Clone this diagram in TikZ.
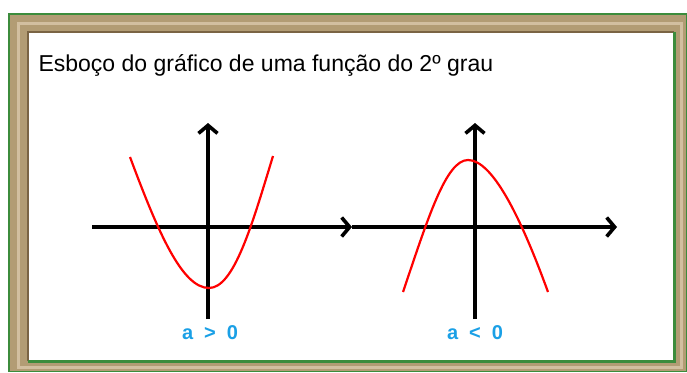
\documentclass[tikz,border=0pt]{standalone}
\usepackage{fontspec}
\setmainfont{Liberation Sans}
\usepackage{tikz}
\usetikzlibrary{arrows.meta,calc}

\definecolor{framebrown}{HTML}{B29C74}
\definecolor{framelight}{HTML}{D2BFA0}
\definecolor{framedark}{HTML}{7A6444}
\definecolor{framegreen}{HTML}{3C8C3C}
\definecolor{labelblue}{HTML}{1AA0E6}

\tikzset{
  axis/.style={line width=3.6pt, -{Straight Barb[length=8pt,width=19pt]}},
  curve/.style={red, line width=2.2pt},
  signlabel/.style={text=labelblue, font=\fontsize{20}{22}\selectfont\bfseries}
}

\begin{document}
\begin{tikzpicture}[x=1pt,y=-1pt]
\useasboundingbox (0,0) rectangle (687,372);
% frame
\fill[framebrown] (8,13) rectangle (687,372);
\draw[framelight, line width=3pt] (18,23) rectangle (681,367);
\draw[framegreen, line width=1.5pt] (8.75,13.75) rectangle (686.25,371.25);
\fill[white] (28,32) rectangle (674,361);
\draw[framedark, line width=2pt] (28,361) -- (28,32) -- (674,32);
\draw[framegreen, line width=3pt] (674,32) -- (674,361) -- (28,361);

\node[anchor=base west, font=\fontsize{23}{26}\selectfont] (title) at (35,71)
  {Esboço do gráfico de uma função do 2º grau};

% a > 0
\draw[axis] (92,227) -- (352,227);
\draw[axis] (208,319) -- (208,123);
\draw[curve] (130,157) .. controls (158,232) and (182,288) .. (209,288)
  .. controls (234,288) and (252,225) .. (273,156);
\node[signlabel] (apos) at (210,333) {a\hspace{11pt}>\hspace{11pt}0};

% a < 0
\draw[axis] (352,227) -- (617,227);
\draw[axis] (475,319) -- (475,123);
\draw[curve] (403,292) .. controls (428,218) and (446,160) .. (468,160)
  .. controls (492,160) and (520,215) .. (548,292);
\node[signlabel] (aneg) at (475,333) {a\hspace{11pt}<\hspace{11pt}0};
\end{tikzpicture}
\end{document}
